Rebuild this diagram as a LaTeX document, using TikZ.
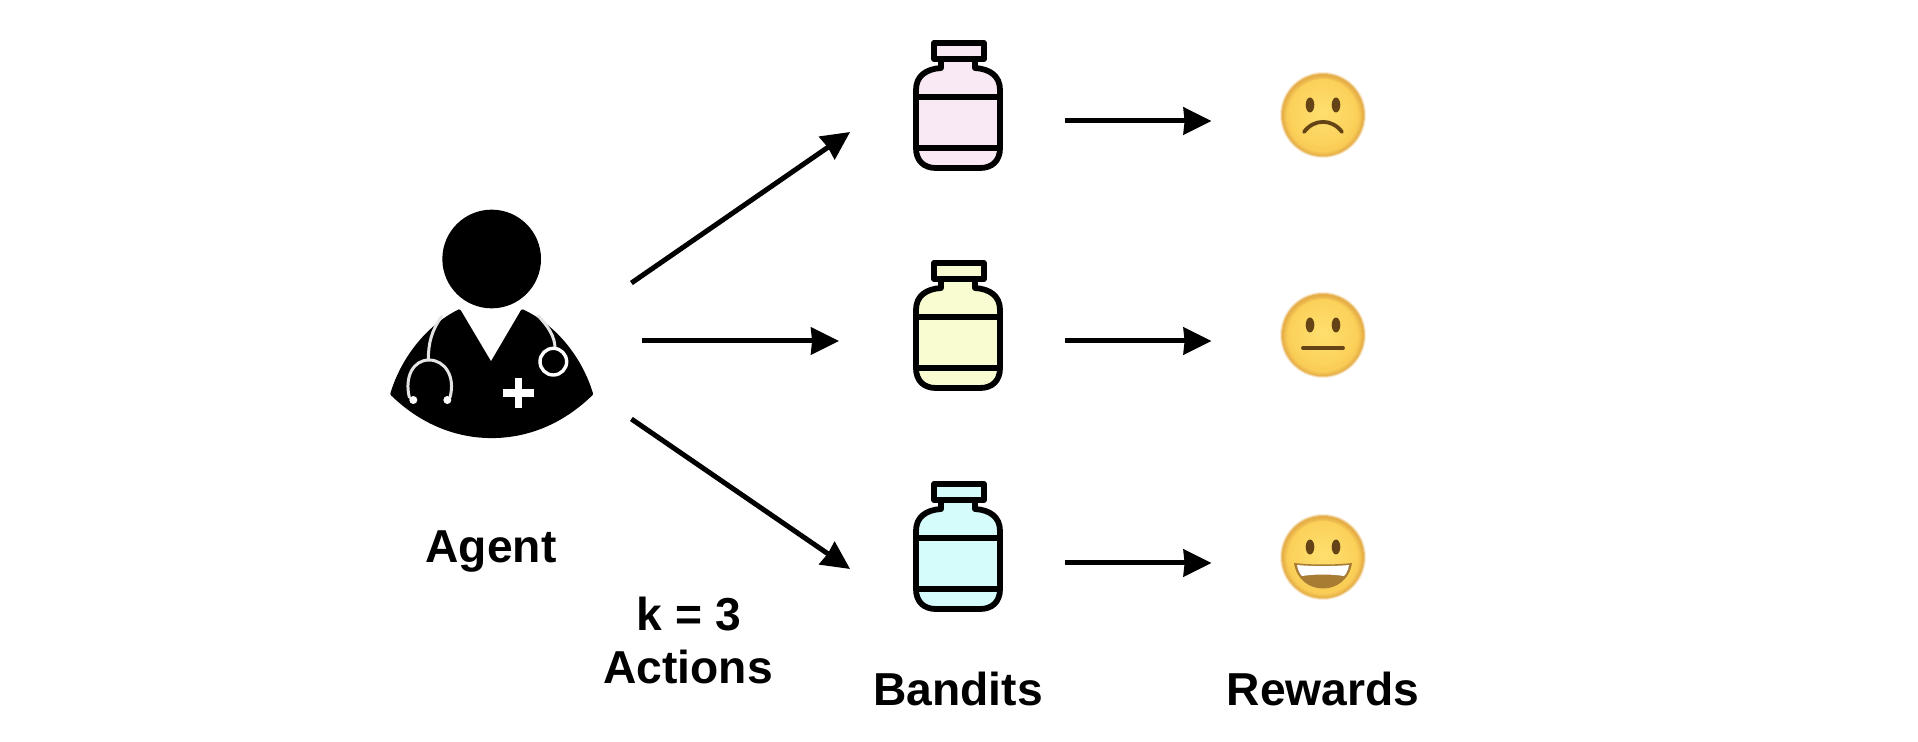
\documentclass[tikz,border=0pt]{standalone}
\usepackage{fontspec}
\setmainfont{Liberation Sans}
\usetikzlibrary{arrows.meta}
\definecolor{pinkfill}{HTML}{F9E9F4}
\definecolor{yellowfill}{HTML}{F8FCD0}
\definecolor{cyanfill}{HTML}{D6FBFB}
\definecolor{facein}{HTML}{FFE070}
\definecolor{facemid}{HTML}{FBD058}
\definecolor{facerim}{HTML}{E6AE48}
\definecolor{facedark}{HTML}{644416}
\definecolor{facemouth}{HTML}{A97C34}
\definecolor{stethcol}{HTML}{E4E4E4}
\tikzset{
  flow/.style={line width=2.5pt,-{Stealth[length=14pt,width=13.5pt,inset=0.5pt]}},
  iconbox/.style={inner sep=0pt,minimum width=44.5pt,minimum height=66pt},
  facebox/.style={inner sep=0pt,minimum size=40pt},
  labeltext/.style={anchor=base,inner sep=0pt,font=\fontsize{23.1}{28}\selectfont\bfseries},
  bottleline/.style={line width=2.9pt,line join=round},
  bottleband/.style={line width=2.6pt},
  steth/.style={draw=stethcol,line width=1.5pt,line cap=round},
  faceline/.style={draw=facedark,line width=1.9pt,line cap=round},
}
\newcommand{\bottleicon}[2]{%
  \begin{scope}[shift={(#1.center)}]
    \fill[#2] (-17,-47) -- (-17,-38) .. controls (-32,-37) and (-42,-30) .. (-42,-16) -- (-42,42)
      .. controls (-42,55) and (-34,62) .. (-22,62) -- (22,62) .. controls (34,62) and (42,55) .. (42,42) -- (42,-16)
      .. controls (42,-30) and (32,-37) .. (17,-38) -- (17,-47) -- cycle;
    \fill[#2] (-24,-63) rectangle (26,-47);
    \draw[bottleline] (-24,-63) rectangle (26,-47);
    \draw[bottleline] (-17,-47) -- (-17,-38) .. controls (-32,-37) and (-42,-30) .. (-42,-16) -- (-42,42)
      .. controls (-42,55) and (-34,62) .. (-22,62) -- (22,62) .. controls (34,62) and (42,55) .. (42,42) -- (42,-16)
      .. controls (42,-30) and (32,-37) .. (17,-38) -- (17,-47);
    \draw[bottleband] (-42,-9) -- (42,-9) (-42,42) -- (42,42);
  \end{scope}}
\newcommand{\facebase}[1]{%
  \begin{scope}[shift={(#1.center)}]
    \fill[facerim!25!white] (0,0) circle[radius=43];
    \fill[facerim!65!white] (0,0) circle[radius=42];
    \fill[facerim] (0,0) circle[radius=41];
    \foreach \r/\p in {40/85,39/65,38/45,37/25,36/10}{\fill[facerim!\p!facemid] (0,1) circle[radius=\r];}
    \foreach \r in {34,32,...,2}{\pgfmathsetmacro\p{100*\r/36}\fill[facemid!\p!facein] (0,-2) circle[radius=\r];}
    \fill[facedark] (-13,-10) ellipse[x radius=4.3,y radius=7.5];
    \fill[facedark] (13,-10) ellipse[x radius=4.3,y radius=7.5];
  \end{scope}}
\begin{document}
\begin{tikzpicture}[x=0.5pt,y=-0.5pt]
\useasboundingbox (0,0) rectangle (1918,742);
\fill[white] (0,0) rectangle (1918,742);

% named holders
\node[inner sep=0pt,minimum width=101.5pt,minimum height=114pt] (agent) at (491.5,324) {};
\node[iconbox] (bandit1) at (958,106) {};
\node[iconbox] (bandit2) at (958,326) {};
\node[iconbox] (bandit3) at (958,547) {};
\node[facebox] (face1) at (1323,115) {};
\node[facebox] (face2) at (1323,335) {};
\node[facebox] (face3) at (1323,557) {};

% agent icon
\begin{scope}[shift={(360,190)},x=0.16667pt,y=-0.16667pt]
  \fill (395,207) circle[radius=148];
  \filldraw[line width=1.4pt,line join=round] (298,362) -- (393,522) -- (487,362)
    .. controls (590,410) and (665,510) .. (695,612)
    .. controls (605,700) and (500,740) .. (395,740)
    .. controls (290,740) and (185,700) .. (95,612)
    .. controls (125,510) and (200,410) .. (298,362) -- cycle;
  \draw[steth] (245,380) .. controls (215,420) and (205,460) .. (205,508);
  \draw[steth] (148,622) .. controls (133,560) and (160,510) .. (207,510)
     .. controls (255,510) and (287,560) .. (270,622);
  \fill[white] (160,630) circle[radius=12];
  \fill[white] (262,630) circle[radius=12];
  \draw[steth] (535,378) .. controls (565,410) and (585,440) .. (585,475);
  \draw[white,line width=1.7pt] (580,515) circle[radius=40];
  \fill[white] (464,565) rectangle (487,655);
  \fill[white] (430,598) rectangle (522,622);
\end{scope}

% bottles
\bottleicon{bandit1}{pinkfill}
\bottleicon{bandit2}{yellowfill}
\bottleicon{bandit3}{cyanfill}

% faces
\facebase{face1}
\draw[faceline] ([shift={(-19,17)}]face1.center) .. controls ([shift={(-9,3.5)}]face1.center) and ([shift={(9,3.5)}]face1.center) .. ([shift={(19,17)}]face1.center);
\facebase{face2}
\draw[faceline] ([shift={(-20,13)}]face2.center) -- ([shift={(20,13)}]face2.center);
\facebase{face3}
\begin{scope}[shift={(face3.center)}]
  \fill[facemouth] (-29,6) .. controls (-24,40) and (24,40) .. (29,6) .. controls (10,8) and (-10,8) .. (-29,6) -- cycle;
  \fill[white] (-26,8) .. controls (-10,9.5) and (10,9.5) .. (26,8) .. controls (25,14) and (23,17) .. (21,19) .. controls (8,17) and (-8,17) .. (-21,19) .. controls (-23,17) and (-25,14) .. (-26,8) -- cycle;
\end{scope}

% connectors
\draw[flow] ([shift={(38,-41)}]agent.east) -- ([shift={(-63,26)}]bandit1.west);
\draw[flow] ([shift={(49,17)}]agent.east) -- ([shift={(-74,15)}]bandit2.west);
\draw[flow] ([shift={(38,95)}]agent.east) -- ([shift={(-63,22)}]bandit3.west);
\draw[flow] ([shift={(62,15)}]bandit1.east) -- ([shift={(-71,6)}]face1.west);
\draw[flow] ([shift={(62,15)}]bandit2.east) -- ([shift={(-71,6)}]face2.west);
\draw[flow] ([shift={(62,16)}]bandit3.east) -- ([shift={(-71,6)}]face3.west);

% labels
\node[labeltext] (agentlabel) at (491,563) {Agent};
\node[labeltext] (klabel) at (689,631) {k = 3};
\node[labeltext] (actionslabel) at (688,684) {Actions};
\node[labeltext] (banditslabel) at (958,706) {Bandits};
\node[labeltext] (rewardslabel) at (1323,706) {Rewards};
\end{tikzpicture}
\end{document}
